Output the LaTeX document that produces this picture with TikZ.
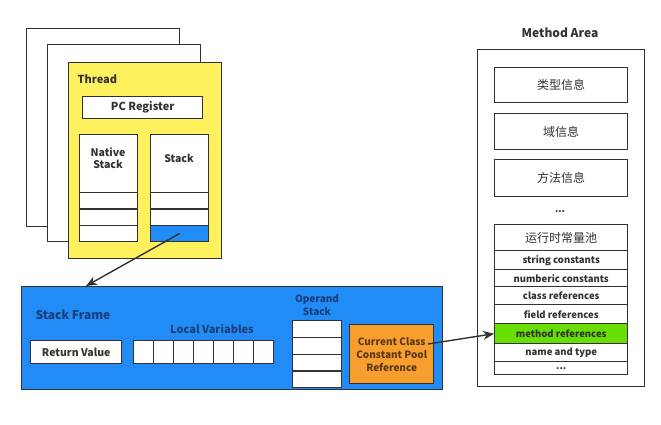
\documentclass[tikz,border=0pt]{standalone}
\usepackage{fontspec}
\setmainfont{Noto Sans CJK SC}
\usetikzlibrary{arrows.meta}

\definecolor{threadyellow}{RGB}{255,241,94}
\definecolor{frameblue}{RGB}{33,140,245}
\definecolor{poolorange}{RGB}{247,158,46}
\definecolor{methodgreen}{RGB}{104,222,4}
\definecolor{labelblue}{RGB}{28,62,122}
\definecolor{poolbrown}{RGB}{90,56,20}
\definecolor{linegray}{RGB}{50,50,50}

\begin{document}
\begin{tikzpicture}[x=1pt, y=-1pt,
  box/.style={draw=linegray, line width=1.4pt, fill=white, inner sep=0pt, anchor=north west},
  lbl/.style={font=\fontsize{11}{13}\selectfont\bfseries, text=linegray, align=center},
  small/.style={font=\fontsize{9.5}{11}\selectfont\bfseries, text=linegray},
  cjk/.style={font=\fontsize{12}{14}\selectfont, text=linegray},
  link/.style={draw=linegray, line width=1.4pt, -{Stealth[length=11pt,width=9pt]}}]
  \useasboundingbox (0,0) rectangle (661,424);

  % thread sheets
  \node[box, minimum width=153, minimum height=198] (sheetA) at (26,28) {};
  \node[box, minimum width=153, minimum height=197] (sheetB) at (47,44) {};
  \node[box, fill=threadyellow, minimum width=153, minimum height=196] (thread) at (68,62) {};
  \node[lbl, anchor=west] (threadlbl) at (74,79) {Thread};
  \node[box, lbl, minimum width=120, minimum height=22] (pc) at (82,96) {PC Register};

  % native stack and stack
  \node[box, minimum width=58, minimum height=58] (native) at (79,134) {};
  \node[lbl, font=\fontsize{10.5}{12.5}\selectfont\bfseries] at (108,158) {Native\\Stack};
  \node[box, minimum width=58, minimum height=58] (stack) at (150,134) {};
  \node[lbl, font=\fontsize{10.5}{12.5}\selectfont\bfseries] at (179,158) {Stack};
  \foreach \i in {0,1,2} {
    \node[box, minimum width=58, minimum height=16.3] (nat\i) at (79,192+16.3*\i) {};
    \node[box, minimum width=58, minimum height=16.3] (stk\i) at (150,192+16.3*\i) {};
  }
  \node[box, fill=frameblue, minimum width=58, minimum height=16.3] (stk2) at (150,224.6) {};

  % stack frame
  \node[box, fill=frameblue, minimum width=421, minimum height=103] (frame) at (21,286) {};
  \coordinate (frametop) at (86,286);
  \node[lbl, anchor=west, text=labelblue, font=\fontsize{12}{14}\selectfont\bfseries] (framelbl) at (32,315) {Stack Frame};
  \node[box, small, font=\fontsize{10.5}{12}\selectfont\bfseries, minimum width=91, minimum height=23] (ret) at (30,340) {Return Value};
  \node[lbl, text=labelblue] (locallbl) at (212,329) {Local Variables};
  \foreach \i in {0,...,6}
    \node[box, minimum width=20, minimum height=23] (loc\i) at (133+20*\i,340) {};
  \node[lbl, text=labelblue, font=\fontsize{10}{13}\selectfont\bfseries] (operandlbl) at (317,305) {Operand\\Stack};
  \foreach \i in {0,...,3}
    \node[box, minimum width=49, minimum height=16.75] (op\i) at (292,320+16.75*\i) {};
  \node[box, lbl, fill=poolorange, text=poolbrown, font=\fontsize{10}{13}\selectfont\bfseries,
        minimum width=84, minimum height=59] (pool) at (349,324) {Current Class\\Constant Pool\\Reference};
  \coordinate (poolout) at (428,344);

  % method area
  \node[lbl, font=\fontsize{12}{14}\selectfont\bfseries] (arealbl) at (560,33) {Method Area};
  \node[box, minimum width=167, minimum height=337] (area) at (477,49) {};
  \node[box, cjk, minimum width=133, minimum height=35] (typeinfo) at (494,67) {类型信息};
  \node[box, cjk, minimum width=133, minimum height=36] (fieldinfo) at (494,113) {域信息};
  \node[box, cjk, minimum width=133, minimum height=37] (methodinfo) at (494,159) {方法信息};
  \node[small] (dots) at (560,212) {...};
  \node[box, cjk, minimum width=133, minimum height=26] (rcp) at (494,224) {运行时常量池};
  \node[box, small, minimum width=133, minimum height=19] (sconst) at (494,250) {string constants};
  \node[box, small, minimum width=133, minimum height=17] (nconst) at (494,269) {numberic constants};
  \node[box, small, minimum width=133, minimum height=18] (cref) at (494,286) {class references};
  \node[box, small, minimum width=133, minimum height=19] (fref) at (494,304) {field references};
  \node[box, small, fill=methodgreen, minimum width=133, minimum height=20] (mref) at (494,323) {method references};
  \node[box, small, minimum width=133, minimum height=18] (ntype) at (494,343) {name and type};
  \node[box, small, minimum width=133, minimum height=13] (more) at (494,361) {...};

  % connectors
  \draw[link] (stk2.center) -- (frametop);
  \draw[link] (poolout) -- (mref.west);
\end{tikzpicture}
\end{document}
